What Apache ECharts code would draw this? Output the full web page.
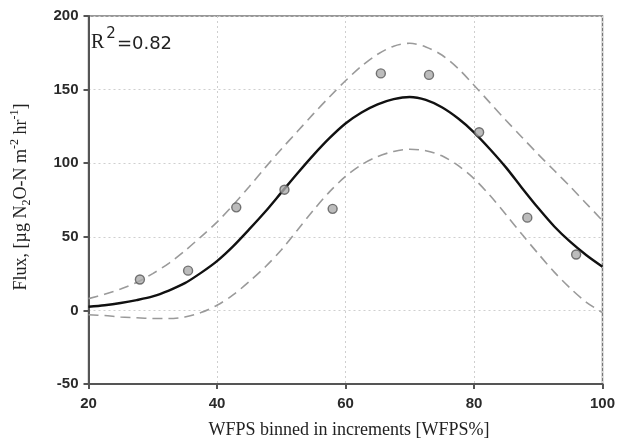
<!DOCTYPE html>
<html>
<head>
<meta charset="utf-8">
<script src="https://cdn.jsdelivr.net/npm/echarts@6/dist/echarts.min.js"></script>
<style>
  html, body { margin: 0; padding: 0; background: #fff; }
  #chart { width: 618px; height: 440px; }
</style>
</head>
<body>
<div id="chart"></div>
<script>
// Binned WFPS values (%) and observed mean N2O flux
var binWFPS = [28, 35.5, 43, 50.5, 58, 65.5, 73, 80.8, 88.3, 95.9];
var binFlux = [21, 27, 70, 82, 69, 161, 160, 121, 63, 38];

// Fitted curve and its band, sampled along WFPS
var curveWFPS = [20, 22.5, 25, 27.5, 30, 32.5, 35, 37.5, 40, 42.5, 45, 47.5, 50, 52.5, 55, 57.5,
                 60, 62.5, 65, 67.5, 70, 72.5, 75, 77.5, 80, 82.5, 85, 87.5, 90, 92.5, 95, 97.5, 100];
var fitFlux   = [2.5, 3.5, 5, 7, 9.5, 13.5, 18.5, 25.5, 33.5, 43.5, 55, 67, 80, 93, 105.5, 117,
                 127, 134.5, 140, 143.5, 145, 143, 138, 130.5, 121, 109.5, 97, 83, 69.5, 57, 46.5, 37.5, 29.7];
var upperFlux = [8, 11, 14.5, 19, 25, 32, 40.5, 50, 60, 71.5, 84, 97, 109.5, 121.5, 133.5, 145,
                 156, 166, 174, 179.5, 181.5, 179, 173.5, 164.5, 153, 141, 129, 117.5, 106, 95, 84, 72.5, 61];
var lowerFlux = [-3, -3.5, -4.5, -5, -5.5, -5.5, -4.5, -1.5, 3.5, 10.5, 19.5, 29.5, 41, 54.5, 68, 80.5,
                 91, 99, 104.5, 108, 109.5, 108.5, 105, 98.5, 89.5, 78, 65, 51.5, 38.5, 26, 15, 5.5, -1.5];

var xTicks = [20, 40, 60, 80, 100];
var yTicks = [-50, 0, 50, 100, 150, 200];

function pairs(xs, ys) {
  return xs.map(function (x, i) { return [x, ys[i]]; });
}

var chart = echarts.init(document.getElementById('chart'), null, { renderer: 'canvas' });

var axisLabelStyle = {
  fontFamily: 'Liberation Sans, Arial, sans-serif',
  fontSize: 15,
  fontWeight: 'bold',
  color: '#2a2a2a'
};

var dashStyle = { color: '#9a9a9a', width: 1.6, type: [10, 6] };

chart.setOption({
  animation: false,
  backgroundColor: '#fff',
  grid: {
    left: 88.5, right: 12, top: 16, bottom: 56,
    show: true, borderColor: '#777', borderWidth: 1.5, backgroundColor: 'transparent'
  },
  xAxis: {
    type: 'value',
    min: xTicks[0], max: xTicks[xTicks.length - 1], interval: 20,
    axisLine: { show: true, onZero: false, lineStyle: { color: '#555', width: 2 } },
    axisTick: { show: true, length: 5, lineStyle: { color: '#555', width: 2 } },
    axisLabel: Object.assign({ margin: 12 }, axisLabelStyle),
    splitLine: { show: true, lineStyle: { color: '#cfcfcf', width: 1, type: [2, 3] } }
  },
  yAxis: {
    type: 'value',
    min: yTicks[0], max: yTicks[yTicks.length - 1], interval: 50,
    axisLine: { show: true, onZero: false, lineStyle: { color: '#555', width: 2 } },
    axisTick: { show: true, length: 5, lineStyle: { color: '#555', width: 2 } },
    axisLabel: Object.assign({ margin: 10 }, axisLabelStyle),
    splitLine: { show: true, lineStyle: { color: '#cfcfcf', width: 1, type: [2, 3] } }
  },
  graphic: [
    {
      type: 'text',
      x: 349,
      y: 430,
      style: {
        text: 'WFPS binned in increments [WFPS%]',
        font: '18px "Liberation Serif", "Times New Roman", serif',
        fill: '#222',
        align: 'center',
        verticalAlign: 'middle'
      }
    },
    {
      type: 'text',
      x: 21,
      y: 197,
      rotation: Math.PI / 2,
      style: {
        text: 'Flux, [µg N{sub|2}O-N m{sup|-2} hr{sup|-1}]',
        font: '18px "Liberation Serif", "Times New Roman", serif',
        fill: '#222',
        align: 'center',
        verticalAlign: 'middle',
        rich: {
          sub: { fontSize: 12, fontFamily: 'Liberation Serif', verticalAlign: 'bottom', lineHeight: 24, fill: '#222' },
          sup: { fontSize: 12, fontFamily: 'Liberation Serif', verticalAlign: 'top', lineHeight: 24, fill: '#222' }
        }
      }
    },
    {
      type: 'text',
      x: 91,
      y: 40,
      style: {
        text: '{r|R}{s|2}{e|=0.82}',
        fill: '#222',
        verticalAlign: 'middle',
        rich: {
          r: { fontSize: 20, fontFamily: 'Liberation Serif', fill: '#222', verticalAlign: 'bottom', lineHeight: 26 },
          s: { fontSize: 15, fontFamily: 'DejaVu Sans', fill: '#222', verticalAlign: 'top', lineHeight: 26, padding: [0, 1, 0, 2] },
          e: { fontSize: 18, fontFamily: 'DejaVu Sans', fill: '#222', verticalAlign: 'bottom', lineHeight: 26 }
        }
      }
    }
  ],
  series: [
    {
      type: 'line', data: pairs(curveWFPS, upperFlux), smooth: 0.3,
      showSymbol: false, lineStyle: dashStyle, z: 2
    },
    {
      type: 'line', data: pairs(curveWFPS, lowerFlux), smooth: 0.3,
      showSymbol: false, lineStyle: dashStyle, z: 2
    },
    {
      type: 'line', data: pairs(curveWFPS, fitFlux), smooth: 0.3,
      showSymbol: false, lineStyle: { color: '#111', width: 2.4 }, z: 3
    },
    {
      type: 'scatter', data: pairs(binWFPS, binFlux),
      symbol: 'circle', symbolSize: 9,
      itemStyle: { color: '#ababab', borderColor: '#555', borderWidth: 1.4 },
      z: 4
    }
  ]
});
</script>
</body>
</html>
